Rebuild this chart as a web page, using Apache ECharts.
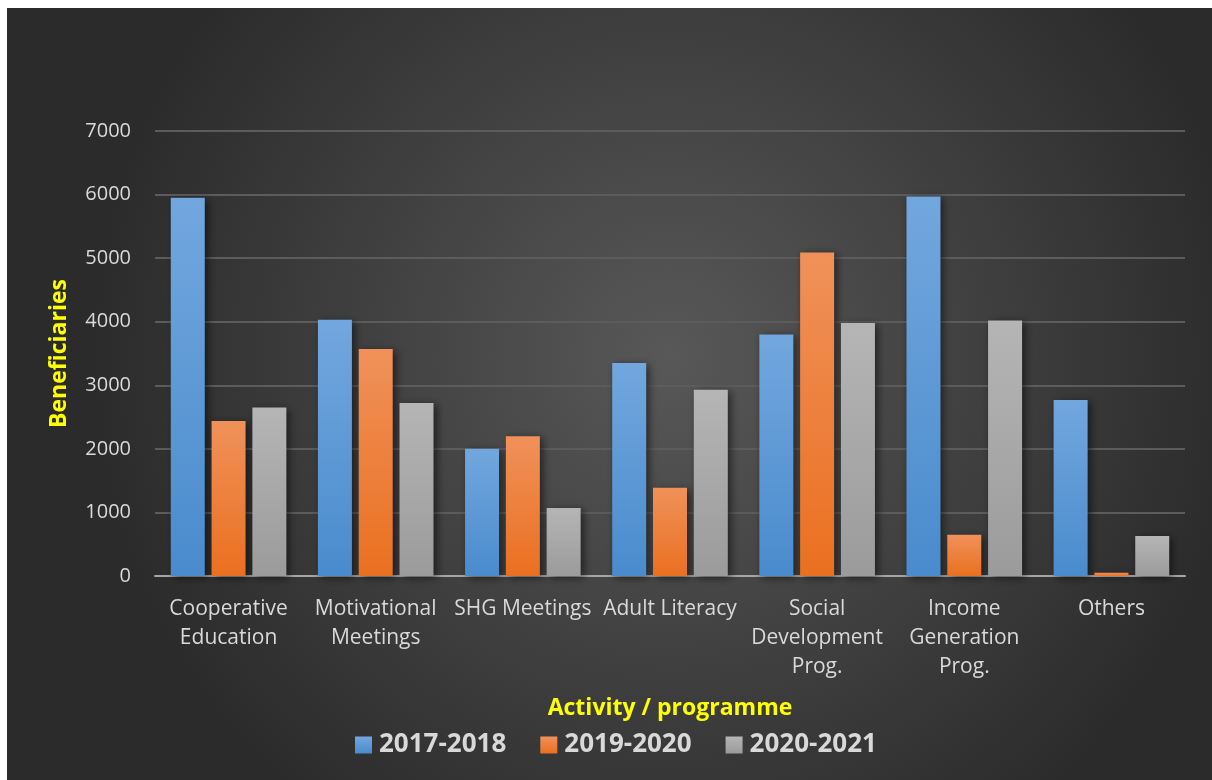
<!DOCTYPE html>
<html>
<head>
<meta charset="utf-8">
<script src="https://cdn.jsdelivr.net/npm/echarts@6/dist/echarts.min.js"></script>
<style>
  html, body { margin: 0; padding: 0; background: #fff; }
  #chart { position: absolute; left: 7px; top: 8px; width: 1205px; height: 772px; }
</style>
</head>
<body>
<div id="chart"></div>
<script>
// categories and values
var categories = ['Cooperative\nEducation', 'Motivational\nMeetings', 'SHG Meetings', 'Adult Literacy',
  'Social\nDevelopment\nProg.', 'Income\nGeneration\nProg.', 'Others'];
var seriesNames = ['2017-2018', '2019-2020', '2020-2021'];
var v2017 = [5950, 4030, 2000, 3350, 3800, 5970, 2770];
var v2019 = [2440, 3570, 2200, 1390, 5090, 650, 50];
var v2020 = [2650, 2720, 1070, 2930, 3980, 4020, 630];
var yTicks = [0, 1000, 2000, 3000, 4000, 5000, 6000, 7000];

var font = '"Open Sans", "DejaVu Sans", sans-serif';

function grad(top, bottom) {
  return new echarts.graphic.LinearGradient(0, 0, 0, 1, [
    { offset: 0, color: top },
    { offset: 1, color: bottom }
  ]);
}

function bar(name, data, top, bottom) {
  return {
    name: name,
    type: 'bar',
    data: data,
    barWidth: 34,
    barGap: '20%',
    itemStyle: {
      color: grad(top, bottom),
      shadowColor: 'rgba(0,0,0,0.55)',
      shadowBlur: 8,
      shadowOffsetX: 3,
      shadowOffsetY: 2
    }
  };
}

var myChart = echarts.init(document.getElementById('chart'));
myChart.setOption({
  animation: false,
  backgroundColor: new echarts.graphic.RadialGradient(0.55, 0.45, 0.75, [
    { offset: 0, color: '#585858' },
    { offset: 1, color: '#2b2b2b' }
  ]),
  textStyle: { fontFamily: font },
  grid: { left: 148, right: 27, top: 123, bottom: 204 },
  legend: {
    bottom: 17,
    left: 343,
    itemWidth: 17,
    itemHeight: 17,
    itemGap: 34,
    icon: 'rect',
    textStyle: { color: '#d9d9d9', fontSize: 26, fontWeight: 'bold', fontFamily: font, padding: [0, 0, 0, 2] }
  },
  xAxis: {
    type: 'category',
    data: categories,
    name: 'Activity / programme',
    nameLocation: 'middle',
    nameGap: 121,
    nameTextStyle: { color: '#ffff00', fontSize: 23, fontWeight: 'bold', fontFamily: font },
    axisLine: { lineStyle: { color: '#a6a6a6', width: 2 } },
    axisTick: { show: false },
    axisLabel: { color: '#d9d9d9', fontSize: 21, lineHeight: 29, margin: 19, interval: 0 }
  },
  yAxis: {
    type: 'value',
    min: yTicks[0],
    max: yTicks[yTicks.length - 1],
    interval: 1000,
    name: 'Beneficiaries',
    nameLocation: 'middle',
    nameGap: 84,
    nameTextStyle: { color: '#ffff00', fontSize: 23, fontWeight: 'bold', fontFamily: font },
    axisLine: { show: false },
    axisTick: { show: false },
    axisLabel: { color: '#d9d9d9', fontSize: 20, margin: 24, formatter: function (v) { return String(v); } },
    splitLine: { lineStyle: { color: '#5c5c5c', width: 2 } }
  },
  series: [
    bar(seriesNames[0], v2017, '#72a7de', '#4a8bcd'),
    bar(seriesNames[1], v2019, '#f0915a', '#ea7020'),
    bar(seriesNames[2], v2020, '#b5b5b5', '#9b9b9b')
  ]
});
</script>
</body>
</html>
